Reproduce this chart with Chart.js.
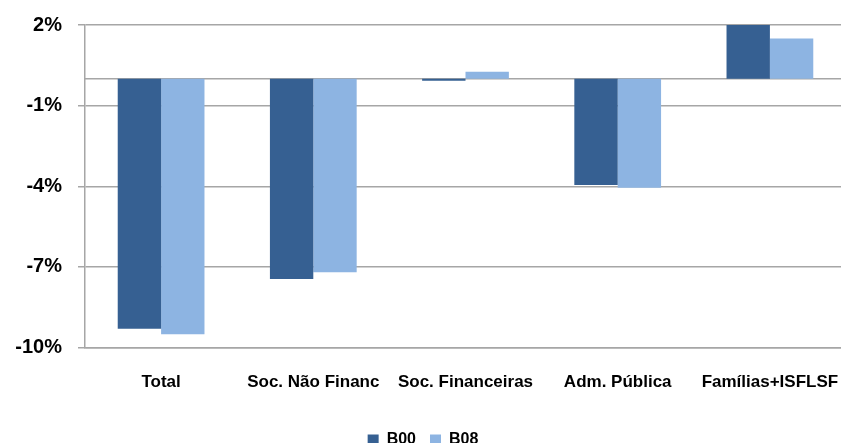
<!DOCTYPE html>
<html>
<head>
<meta charset="utf-8">
<script src="https://cdn.jsdelivr.net/npm/chart.js@4"></script>
<style>
  html, body { margin: 0; padding: 0; background: #fff; overflow: hidden; }
  canvas { display: block; }
</style>
</head>
<body>
<canvas id="chart" width="846" height="458"></canvas>
<script>
// categories and series (values in %)
let categories = ['Total', 'Soc. Não Financ', 'Soc. Financeiras', 'Adm. Pública', 'Famílias+ISFLSF']
let seriesNames = ['B00', 'B08']
let b00 = [-9.3, -7.45, -0.07, -3.95, 2.1]
let b08 = [-9.5, -7.2, 0.26, -4.05, 1.5]
let yMin = -10
let yMax = 2
let yStep = 3

let ctx = document.getElementById('chart').getContext('2d')

Chart.defaults.font.family = '"Liberation Sans", Arial, sans-serif'
Chart.defaults.font.weight = 'bold'
Chart.defaults.color = '#000'

// draws the 0% line across the plot, under the bars
let zeroLine = {
    id: 'zeroLine',
    beforeDatasetsDraw(chart) {
        let y = chart.scales.y.getPixelForValue(0)
        let area = chart.chartArea
        let c = chart.ctx
        c.save()
        c.strokeStyle = '#a6a6a6'
        c.lineWidth = 1.5
        c.beginPath()
        c.moveTo(area.left, y)
        c.lineTo(area.right, y)
        c.stroke()
        c.restore()
    }
}

new Chart(ctx, {
    type: 'bar',
    data: {
        labels: categories,
        datasets: [
            {
                label: seriesNames[0],
                data: b00,
                backgroundColor: '#366092',
                categoryPercentage: 0.57,
                barPercentage: 1.0
            },
            {
                label: seriesNames[1],
                data: b08,
                backgroundColor: '#8db4e2',
                categoryPercentage: 0.57,
                barPercentage: 1.0
            }
        ]
    },
    options: {
        responsive: false,
        animation: false,
        layout: { padding: { left: 0, right: 0, top: 25, bottom: 0 } },
        plugins: {
            tooltip: { enabled: false },
            legend: {
                position: 'bottom',
                labels: {
                    boxWidth: 11,
                    boxHeight: 11,
                    padding: 14,
                    font: { size: 16, weight: 'bold' }
                }
            }
        },
        scales: {
            x: {
                grid: { display: false },
                border: { display: true, color: '#a6a6a6', width: 1.5 },
                ticks: { padding: 17, maxRotation: 0, autoSkip: false, font: { size: 17, weight: 'bold' } },
                // keep the plot running to the right edge like the original
                afterFit: scale => {
                    scale.paddingLeft = 0
                    scale.paddingRight = 0
                    scale.height += 8
                }
            },
            y: {
                min: yMin,
                max: yMax,
                ticks: {
                    stepSize: yStep,
                    padding: 16,
                    font: { size: 20, weight: 'bold' },
                    callback: v => v + '%'
                },
                grid: { color: '#a6a6a6', lineWidth: 1.5, tickLength: 7 },
                border: { display: true, color: '#a6a6a6', width: 1.5 },
                afterFit: scale => {
                    scale.width = 85
                    scale.paddingTop = 0
                    scale.paddingBottom = 0
                }
            }
        }
    },
    plugins: [zeroLine]
})
</script>
</body>
</html>
